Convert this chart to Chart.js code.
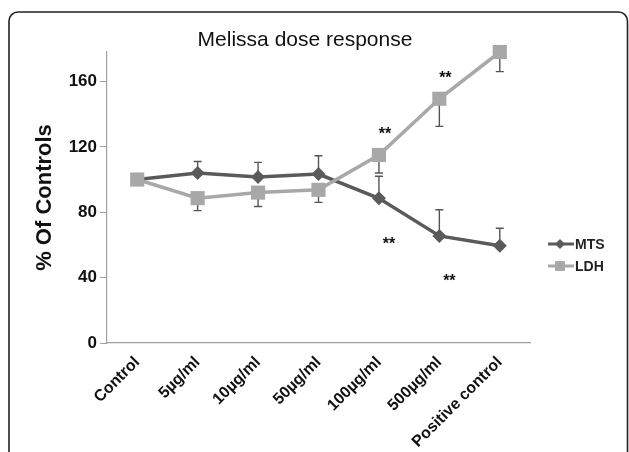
<!DOCTYPE html>
<html>
<head>
<meta charset="utf-8">
<script src="https://cdn.jsdelivr.net/npm/chart.js@4.4.1/dist/chart.umd.min.js"></script>
<style>
  html, body { margin: 0; padding: 0; background: #fff; }
  canvas { display: block; }
</style>
</head>
<body>
<canvas id="grafico" width="629" height="452"></canvas>
<script>
// Dados (% dos controles)
const categorias = ["Control", "5µg/ml", "10µg/ml", "50µg/ml", "100µg/ml", "500µg/ml", "Positive control"];
const mts = [100, 104, 101.5, 103.3, 88.5, 65.5, 59.5];
const mtsErro = [0, 7, 9, 11.2, 13.5, 16, 10.7];      // barra só para cima
const ldh = [100, 88.6, 92, 93.7, 115, 149.4, 178];
const ldhErro = [0, 7.6, 8.5, 7.7, 11, 16.9, 12];     // barra só para baixo
const mtsSignif = [false, false, false, false, true, true, false];
const ldhSignif = [false, false, false, false, true, true, false];
const ticksY = [0, 40, 80, 120, 160];

const FONTE = "'Liberation Sans', Arial, sans-serif";
const COR_MTS = "#5a5a5a";
const COR_LDH = "#a8a8a8";
const COR_EIXO = "#a0a0a0";

Chart.defaults.font.family = FONTE;

/** Moldura arredondada + fundo branco. */
const moldura = {
    id: "moldura",
    beforeDraw(chart) {
        const ctx = chart.ctx;
        ctx.save();
        ctx.fillStyle = "#fff";
        ctx.fillRect(0, 0, chart.width, chart.height);
        ctx.strokeStyle = "#222";
        ctx.lineWidth = 1.6;
        ctx.beginPath();
        ctx.roundRect(9, 12, chart.width - 10.5, chart.height + 20, 9);
        ctx.stroke();
        ctx.restore();
    },
};

/** Barras de erro: MTS para cima, LDH para baixo. */
const barrasErro = {
    id: "barrasErro",
    beforeDatasetsDraw(chart) {
        const { ctx, scales: { x, y } } = chart;
        const series = [
            { valores: mts, erros: mtsErro, sinal: 1 },
            { valores: ldh, erros: ldhErro, sinal: -1 },
        ];
        ctx.save();
        ctx.strokeStyle = "#555";
        ctx.lineWidth = 1.4;
        series.forEach(s => {
            s.valores.forEach((v, i) => {
                if (!s.erros[i]) return;
                const px = x.getPixelForValue(i);
                const y0 = y.getPixelForValue(v);
                const y1 = y.getPixelForValue(v + s.sinal * s.erros[i]);
                ctx.beginPath();
                ctx.moveTo(px, y0);
                ctx.lineTo(px, y1);
                ctx.moveTo(px - 4, y1);
                ctx.lineTo(px + 4, y1);
                ctx.stroke();
            });
        });
        ctx.restore();
    },
};

/** Título, asteriscos de significância e legenda à direita. */
const anotacoes = {
    id: "anotacoes",
    afterDraw(chart) {
        const { ctx, chartArea, scales: { x, y } } = chart;
        ctx.save();
        ctx.fillStyle = "#111";
        ctx.textAlign = "center";
        ctx.textBaseline = "middle";
        ctx.font = `21px ${FONTE}`;
        ctx.fillText("Melissa dose response", 305, 40);

        ctx.font = `bold 16px ${FONTE}`;
        ldhSignif.forEach((s, i) => {
            if (!s) return;
            ctx.fillText("**", x.getPixelForValue(i) + 6, y.getPixelForValue(ldh[i]) - 20);
        });
        mtsSignif.forEach((s, i) => {
            if (!s) return;
            ctx.fillText("**", x.getPixelForValue(i) + 10, y.getPixelForValue(mts[i]) + 46);
        });

        // legenda
        const itens = [
            { nome: "MTS", cor: COR_MTS, estilo: "rectRot", raio: 5 },
            { nome: "LDH", cor: COR_LDH, estilo: "rect", raio: 7 },
        ];
        const x0 = chartArea.right + 18;
        itens.forEach((it, k) => {
            const yy = 244 + k * 22;
            ctx.strokeStyle = it.cor;
            ctx.lineWidth = 3;
            ctx.beginPath();
            ctx.moveTo(x0, yy);
            ctx.lineTo(x0 + 26, yy);
            ctx.stroke();
            ctx.fillStyle = it.cor;
            Chart.helpers.drawPoint(ctx, { pointStyle: it.estilo, radius: it.raio, borderWidth: 0 }, x0 + 12, yy);
            ctx.fillStyle = "#222";
            ctx.textAlign = "left";
            ctx.font = `bold 14px ${FONTE}`;
            ctx.fillText(it.nome, x0 + 27, yy + 1);
        });
        ctx.restore();
    },
};

new Chart(document.getElementById("grafico"), {
    type: "line",
    data: {
        labels: categorias,
        datasets: [
            {
                label: "MTS",
                data: mts,
                order: 1,
                borderColor: COR_MTS,
                backgroundColor: COR_MTS,
                borderWidth: 3.5,
                pointStyle: "rectRot",
                pointRadius: 7,
                pointBorderWidth: 0,
                clip: false,
            },
            {
                label: "LDH",
                data: ldh,
                order: 0,   // LDH por cima, como no original
                borderColor: COR_LDH,
                backgroundColor: COR_LDH,
                borderWidth: 3.5,
                pointStyle: "rect",
                pointRadius: 10,
                pointBorderWidth: 0,
                clip: false,
            },
        ],
    },
    options: {
        responsive: false,
        animation: false,
        devicePixelRatio: 1,
        layout: { padding: { top: 52, right: 99, left: 0, bottom: 0 } },
        plugins: {
            legend: { display: false },
            title: { display: false },
            tooltip: { enabled: false },
        },
        scales: {
            x: {
                offset: true,
                afterFit: (s) => { s.height = 109; },
                ticks: {
                    autoSkip: false,
                    minRotation: 45,
                    maxRotation: 45,
                    padding: 2,
                    color: "#111",
                    font: { size: 16, weight: "bold" },
                },
                grid: { display: false },
                border: { color: COR_EIXO, width: 1.2 },
            },
            y: {
                min: 0,
                max: 178,
                afterBuildTicks: (s) => { s.ticks = ticksY.map(v => ({ value: v })); },
                afterFit: (s) => { s.width = 107; },
                ticks: {
                    padding: 3,
                    color: "#111",
                    font: { size: 17, weight: "bold" },
                },
                grid: { drawOnChartArea: false, tickLength: 7, color: COR_EIXO },
                border: { color: COR_EIXO, width: 1.2 },
                title: {
                    display: true,
                    text: "% Of Controls",
                    color: "#111",
                    font: { size: 22, weight: "bold" },
                    padding: { top: 32, bottom: 0 },
                },
            },
        },
    },
    plugins: [moldura, barrasErro, anotacoes],
});
</script>
</body>
</html>
